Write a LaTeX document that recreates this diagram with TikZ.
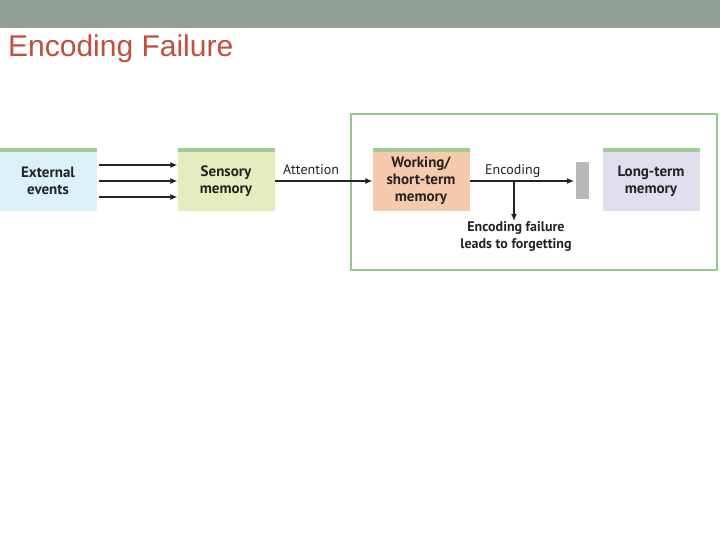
\documentclass[tikz,border=0pt]{standalone}
\usepackage{fontspec}
\setmainfont{PT Sans}
\newfontfamily\titlefont{Liberation Sans}
\usetikzlibrary{arrows.meta}
\definecolor{topbar}{RGB}{145,160,150}
\definecolor{titlec}{RGB}{190,80,60}
\definecolor{stripe}{RGB}{160,205,150}
\definecolor{frame}{RGB}{150,200,140}
\definecolor{cext}{RGB}{220,240,248}
\definecolor{csens}{RGB}{228,236,192}
\definecolor{cwork}{RGB}{246,202,172}
\definecolor{clong}{RGB}{222,222,236}
\definecolor{txt}{RGB}{35,35,35}
\begin{document}
\begin{tikzpicture}[x=1pt,y=-1pt,
  stage/.style={minimum width=97pt,minimum height=63pt,inner sep=0pt,align=center,
    font=\fontsize{15}{17}\selectfont\bfseries,text=txt},
  arr/.style={-{Latex[length=7pt,width=6pt]},line width=1.2pt,draw=txt},
  lbl/.style={font=\fontsize{14}{16}\selectfont,text=txt,inner sep=0pt}]
\useasboundingbox (0,0) rectangle (720,540);
\fill[white] (0,0) rectangle (720,540);
\fill[topbar] (0,0) rectangle (720,28);
\node[anchor=base west,inner sep=0pt,text=titlec,font=\titlefont\fontsize{30}{34}\selectfont] (title) at (8,57) {Encoding Failure};
\draw[frame,line width=2pt] (351,114) rectangle (717,270);
\foreach \n/\x/\c in {ext/0/cext,sens/178/csens,work/373/cwork,long/603/clong}{
  \fill[\c] (\x,148) rectangle ++(97,63);
  \fill[stripe] (\x,148) rectangle ++(97,4);
}
\node[stage] (ext) at (48,181) {External\\events};
\node[stage] (sens) at (226,181) {Sensory\\memory};
\node[stage] (work) at (421,181) {Working/\\short-term\\memory};
\node[stage] (long) at (651,181) {Long-term\\memory};
\fill[black!28] (576,162) rectangle (589,199);
\coordinate (bar) at (574,181);
\foreach \y in {165,181,197}{
  \draw[arr] (ext.east |- 0,\y) ++(2,0) -- (sens.west |- 0,\y);
}
\draw[arr] (sens.east) -- (work.west);
\node[lbl,anchor=base west] (att) at (283,175) {Attention};
\draw[arr] (work.east) -- (bar);
\node[lbl,anchor=base west] (enc) at (485,175) {Encoding};
\coordinate (split) at (514,181);
\node[align=center,inner sep=0pt,font=\fontsize{14}{17}\selectfont\bfseries,text=txt,anchor=north] (fail) at (516,221) {Encoding failure\\leads to forgetting};
\draw[arr] (split) -- (fail.north -| split);
\end{tikzpicture}
\end{document}
